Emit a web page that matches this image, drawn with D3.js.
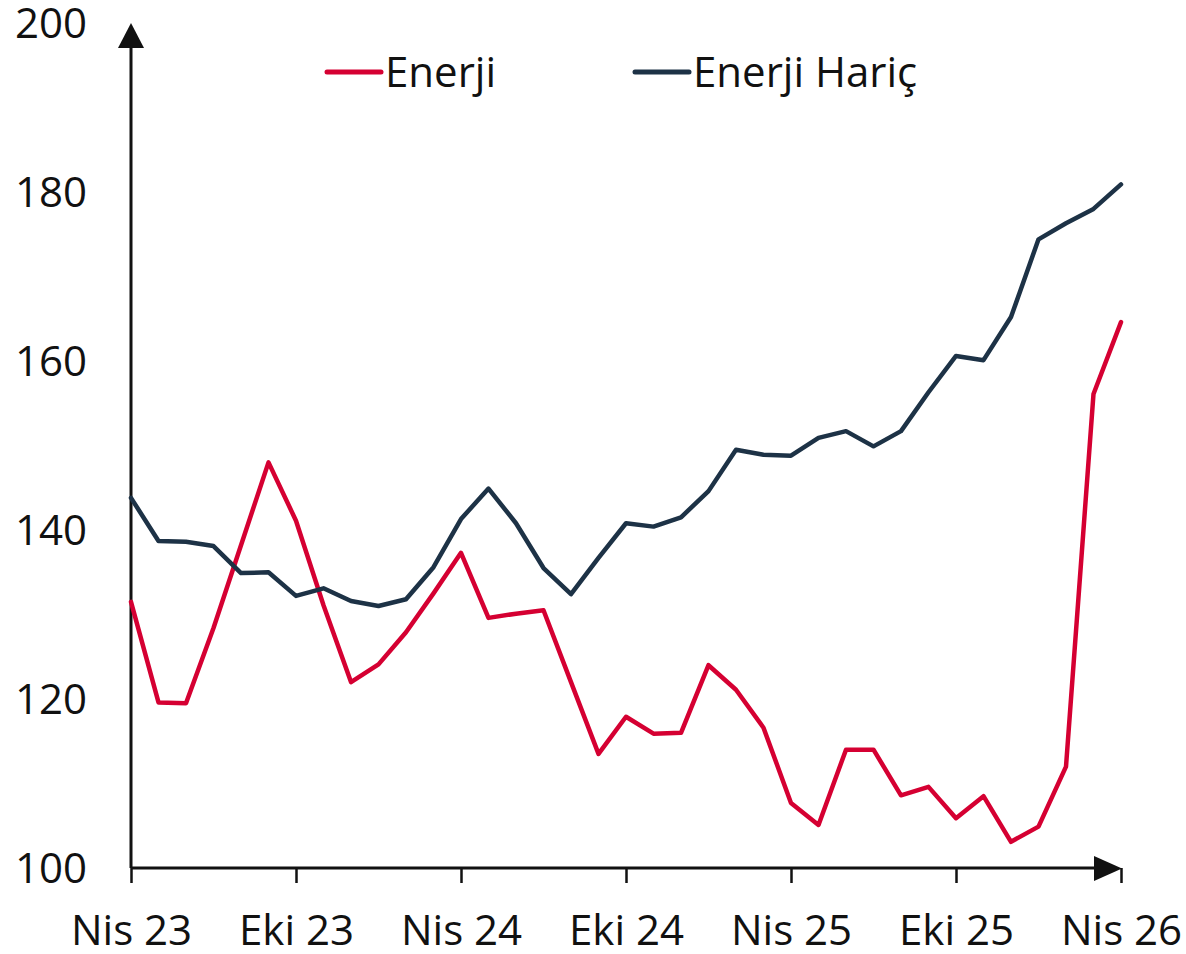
<!DOCTYPE html>
<html><head><meta charset="utf-8">
<script src="https://cdn.jsdelivr.net/npm/d3@7"></script>
<style>body{margin:0;background:#fff}svg{display:block}text{font-family:"Open Sans",sans-serif}</style>
</head><body>
<svg id="c" width="1186" height="954"></svg>
<script>
const tickLabels = ["Nis 23","Eki 23","Nis 24","Eki 24","Nis 25","Eki 25","Nis 26"];
const yTicks = [100,120,140,160,180,200];
const enerji = [131.5,119.6,119.5,128.4,138.2,148.0,141.1,131.1,122.0,124.1,127.9,132.5,137.3,129.6,130.1,130.5,122.0,113.5,117.9,115.9,116.0,124.0,121.1,116.6,107.7,105.1,114.0,114.0,108.6,109.6,105.9,108.5,103.1,104.9,112.0,156.1,164.6];
const enerjiHaric = [143.8,138.7,138.6,138.1,134.9,135.0,132.2,133.1,131.6,131.0,131.8,135.6,141.3,144.9,140.8,135.5,132.4,136.7,140.8,140.4,141.5,144.6,149.5,148.9,148.8,150.9,151.7,149.9,151.7,156.3,160.6,160.1,165.2,174.4,176.3,178.0,180.9];
const seriesNames = ["Enerji","Enerji Hariç"];
const colors = ["#d50032","#1d3246"];

const svg = d3.select("#c");
const x = d3.scaleLinear().domain([0,36]).range([131,1121]);
const y = d3.scaleLinear().domain([100,200]).range([868,23]);

// y axis labels
svg.append("g").selectAll("text").data(yTicks).join("text")
  .attr("x",87).attr("y",d=>y(d)).attr("dy","0.36em")
  .attr("text-anchor","end").attr("font-size",42).attr("fill","#111").text(d=>d);

// x axis
const xa = d3.axisBottom(x).tickValues(d3.range(0,37,6)).tickFormat((d,i)=>tickLabels[i]).tickSize(15).tickPadding(32);
const gx = svg.append("g").attr("transform","translate(0,868)").call(xa);
gx.select(".domain").remove();
gx.selectAll(".tick line").attr("stroke","#111").attr("stroke-width",2.5);
gx.selectAll(".tick text").attr("font-size",42).attr("fill","#111").attr("font-family","Open Sans");

// axis lines
svg.append("line").attr("x1",131).attr("x2",1100).attr("y1",868).attr("y2",868).attr("stroke","#111").attr("stroke-width",3);
svg.append("line").attr("x1",131).attr("x2",131).attr("y1",868).attr("y2",45).attr("stroke","#111").attr("stroke-width",3);
svg.append("path").attr("d","M118,48 L144,48 L131,23 Z").attr("fill","#111");
svg.append("path").attr("d","M1094,856 L1094,881 L1122,868.5 Z").attr("fill","#111");

// lines
const line = d3.line().x((d,i)=>x(i)).y(d=>y(d));
[enerji,enerjiHaric].forEach((s,k)=>{
  svg.append("path").datum(s).attr("d",line).attr("fill","none")
    .attr("stroke",colors[k]).attr("stroke-width",4.5).attr("stroke-linejoin","round").attr("stroke-linecap","round");
});

// legend
const lg = [{x:327},{x:635}];
lg.forEach((p,k)=>{
  svg.append("line").attr("x1",p.x).attr("x2",p.x+54).attr("y1",72).attr("y2",72)
    .attr("stroke",colors[k]).attr("stroke-width",5).attr("stroke-linecap","round");
  svg.append("text").attr("x",p.x+58).attr("y",72).attr("dy","0.36em").attr("font-size",42).attr("fill","#111").text(seriesNames[k]);
});
</script>
</body></html>
